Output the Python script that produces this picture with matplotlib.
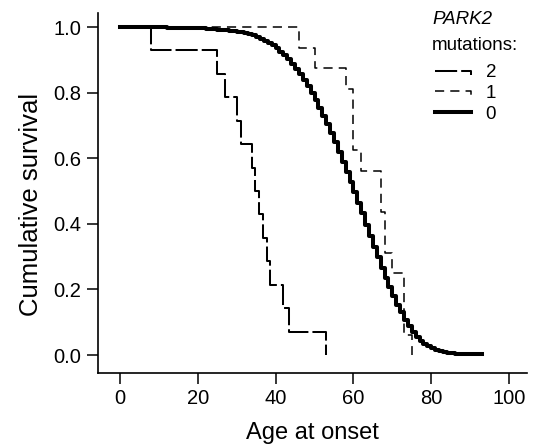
import matplotlib
matplotlib.use("Agg")
import matplotlib.pyplot as plt
from matplotlib.lines import Line2D
from matplotlib.legend_handler import HandlerBase

plt.rcParams['font.family'] = ['Liberation Sans', 'DejaVu Sans']

# Kaplan-Meier estimates (age at step, survival after step)
# two mutations (n = 14)
age_2 = [0, 8, 25, 27, 30, 31, 34, 34.7, 35.8, 36.8, 37.8, 38.6, 42, 43.5, 53]
surv_2 = [1.0, 0.929, 0.857, 0.786, 0.714, 0.643, 0.571, 0.500, 0.429,
          0.357, 0.286, 0.214, 0.143, 0.071, 0.0]

# one mutation (n = 16)
age_1 = [0, 46, 50, 58, 60, 62, 67, 68, 70, 73, 75]
surv_1 = [1.0, 0.9375, 0.875, 0.8125, 0.625, 0.5625, 0.4375, 0.3125,
          0.25, 0.0625, 0.0]

# no mutation (large group)
age_0 = [0, 12, 18, 22, 25, 28, 30, 32, 33, 34, 35, 36, 37, 38, 39, 40,
         41, 42, 43, 44, 45, 46, 47, 48, 49, 50, 51, 52, 53, 54, 55, 56,
         57, 58, 59, 60, 61, 62, 63, 64, 65, 66, 67, 68, 69, 70, 71, 72,
         73, 74, 75, 76, 77, 78, 79, 80, 81, 82, 83, 84, 85, 86, 88, 90, 93]
surv_0 = [1.0, 0.998, 0.996, 0.994, 0.992, 0.989, 0.986, 0.982, 0.979,
          0.975, 0.970, 0.965, 0.959, 0.952, 0.944, 0.935, 0.925, 0.914,
          0.902, 0.888, 0.873, 0.857, 0.839, 0.820, 0.799, 0.777, 0.754,
          0.730, 0.704, 0.677, 0.649, 0.620, 0.590, 0.559, 0.528, 0.496,
          0.464, 0.432, 0.395, 0.362, 0.330, 0.298, 0.266, 0.236, 0.207,
          0.180, 0.154, 0.130, 0.107, 0.087, 0.069, 0.054, 0.042, 0.033,
          0.026, 0.020, 0.015, 0.011, 0.008, 0.006, 0.005, 0.004, 0.003,
          0.002, 0.002]

x_ticks = [0, 20, 40, 60, 80, 100]
y_ticks = [0.0, 0.2, 0.4, 0.6, 0.8, 1.0]


# legend handle shaped like the end of a survival step
class StepHandler(HandlerBase):
    def __init__(self, hook=0.0):
        super().__init__()
        self.hook = hook

    def create_artists(self, legend, orig_handle, xdescent, ydescent,
                       width, height, fontsize, trans):
        x0 = -xdescent
        x1 = x0 + width
        y = -ydescent + height / 2
        if self.hook:
            xs, ys = [x0, x1, x1], [y, y, y - self.hook * height]
        else:
            xs, ys = [x0, x1], [y, y]
        line = Line2D(xs, ys)
        line.update_from(orig_handle)
        line.set_transform(trans)
        return [line]


fig = plt.figure(figsize=(5.41, 4.46), dpi=100)
ax = fig.add_axes([0.1806, 0.1643, 0.793, 0.8066])

l2, = ax.step(age_2, surv_2, where='post', color='black', lw=1.45,
              linestyle=(0, (11, 2)), label='2')
l1, = ax.step(age_1, surv_1, where='post', color='black', lw=1.1,
              linestyle=(0, (6, 4)), label='1')
l0, = ax.step(age_0, surv_0, where='post', color='black', lw=2.9,
              label='0')

ax.set_xlim(-5.73, 104.55)
ax.set_ylim(-0.054, 1.043)
ax.set_xticks(x_ticks)
ax.set_yticks(y_ticks)
ax.set_yticklabels([f"{v:.1f}" for v in y_ticks])
ax.tick_params(direction='out', length=8, width=1.1, labelsize=14.5, pad=4)

for side in ['top', 'right']:
    ax.spines[side].set_visible(False)
for side in ['left', 'bottom']:
    ax.spines[side].set_linewidth(1.2)

ax.set_xlabel("Age at onset", fontsize=17, labelpad=10)
ax.set_ylabel("Cumulative survival", fontsize=18.5)
ax.yaxis.set_label_coords(-0.127, 0.469)

# legend heading
fig.text(432 / 541, 1 - 20 / 446, "PARK2", fontsize=13.5, style='italic',
         ha='left', va='center')
fig.text(432 / 541, 1 - 45 / 446, "mutations:", fontsize=13.5,
         ha='left', va='center')

leg = ax.legend(handles=[l2, l1, l0],
                handler_map={l2: StepHandler(0.35), l1: StepHandler(0.4),
                             l0: StepHandler(0.0)},
                fontsize=13.5, frameon=False,
                loc='upper left', bbox_to_anchor=(435 / 541, 1 - 64 / 446),
                bbox_transform=fig.transFigure, borderpad=0, borderaxespad=0,
                handlelength=1.9, handletextpad=0.8, labelspacing=0.2)

fig.savefig("out.png", dpi=100)
